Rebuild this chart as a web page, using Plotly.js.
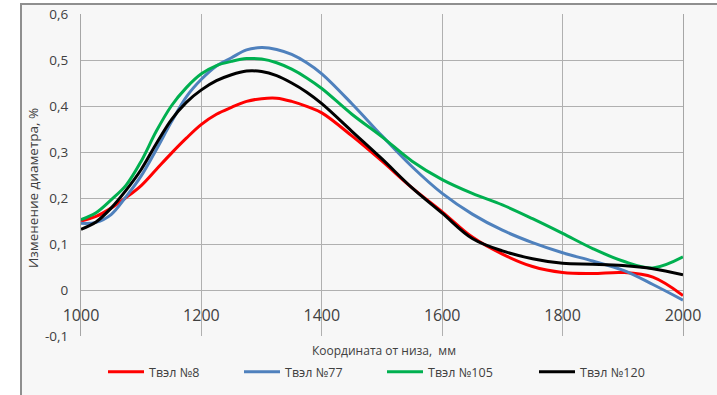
<!DOCTYPE html>
<html>
<head>
<meta charset="utf-8">
<script src="https://cdn.plot.ly/plotly-3.0.1.min.js"></script>
<style>html,body{margin:0;padding:0;background:#fff;}#chart{width:717px;height:395px;}</style>
</head>
<body>
<div id="chart"></div>
<script>
const coords  = [1000,1025,1050,1075,1100,1125,1150,1175,1200,1225,1250,1275,1300,1325,1350,1375,1400,1450,1500,1550,1600,1650,1700,1750,1800,1850,1900,1950,2000];
const tvel8   = [0.150,0.160,0.178,0.201,0.227,0.262,0.297,0.330,0.360,0.382,0.397,0.410,0.416,0.417,0.410,0.399,0.385,0.335,0.280,0.222,0.170,0.115,0.078,0.051,0.038,0.036,0.038,0.028,-0.012];
const tvel77  = [0.145,0.147,0.164,0.203,0.248,0.305,0.365,0.420,0.458,0.487,0.505,0.522,0.527,0.523,0.512,0.494,0.470,0.405,0.335,0.268,0.210,0.165,0.130,0.103,0.081,0.063,0.043,0.012,-0.022];
const tvel105 = [0.153,0.168,0.196,0.228,0.280,0.345,0.400,0.440,0.470,0.488,0.497,0.503,0.502,0.494,0.480,0.461,0.438,0.382,0.333,0.280,0.240,0.210,0.185,0.155,0.123,0.090,0.063,0.048,0.072];
const tvel120 = [0.132,0.148,0.178,0.217,0.262,0.318,0.370,0.408,0.435,0.455,0.468,0.476,0.475,0.466,0.450,0.430,0.405,0.345,0.285,0.222,0.167,0.112,0.085,0.068,0.058,0.056,0.053,0.046,0.033];
const seriesNames = ["Твэл №8","Твэл №77","Твэл №105","Твэл №120"];
const yTickVals = [-0.1,0,0.1,0.2,0.3,0.4,0.5,0.6];
const yTickText = ["-0,1","0","0,1","0,2","0,3","0,4","0,5","0,6"];
const xTickVals = [1000,1200,1400,1600,1800,2000];
const xTickText = ["1000","1200","1400","1600","1800","2000"];
const xTitle = "Координата от низа,  мм";
const yTitle = "Изменение диаметра, %";

const colors = ["#ff0000","#4f81bd","#00b050","#000000"];
const allY = [tvel8, tvel77, tvel105, tvel120];
const legendIds = ["legend","legend2","legend3","legend4"];

const W = 717, H = 395;
const L = 81, R = 34, T = 14, B = 59;
const pw = W - L - R, ph = H - T - B;
const px = v => (v - L) / pw;
const py = v => (H - B - v) / ph;

const traces = allY.map((ys, i) => ({
  x: coords, y: ys, type: "scatter", mode: "lines", name: seriesNames[i],
  line: {color: colors[i], width: 3, shape: "spline", smoothing: 1},
  legend: legendIds[i], hoverinfo: "skip"
}));

const legendStarts = [108, 244, 387, 539];
const legendFont = {family: "Open Sans", size: 12.5, color: "#404040"};
const legends = {};
legendIds.forEach((id, i) => {
  legends[id] = {
    xref: "container", yref: "container",
    x: (legendStarts[i] - 5) / W, y: (H - 372) / H, xanchor: "left", yanchor: "middle",
    orientation: "h", bgcolor: "rgba(0,0,0,0)", borderwidth: 0,
    font: legendFont, itemwidth: 36
  };
});

const layout = Object.assign({
  width: W, height: H,
  margin: {l: L, r: R, t: T, b: B, pad: 0, autoexpand: false},
  paper_bgcolor: "#ffffff",
  plot_bgcolor: "rgba(0,0,0,0)",
  showlegend: true,
  font: {family: "Open Sans", color: "#404040"},
  xaxis: {
    range: [1000, 2000], tickvals: xTickVals, ticktext: xTickText,
    showgrid: true, gridcolor: "#b0b0b0", gridwidth: 1,
    zeroline: false, showline: false, ticks: "",
    anchor: "free", position: py(304),
    tickfont: {family: "Open Sans", size: 16, color: "#404040"}
  },
  yaxis: {
    range: [-0.1, 0.6], tickvals: yTickVals, ticktext: yTickText,
    showgrid: true, gridcolor: "#b0b0b0", gridwidth: 1,
    zeroline: false, showline: true, linecolor: "#a6a6a6", linewidth: 1, mirror: true,
    ticks: "", ticklabelstandoff: 9,
    tickfont: {family: "Open Sans", size: 13.5, color: "#404040"}
  },
  shapes: [{
    type: "rect", xref: "paper", yref: "paper", layer: "below",
    x0: px(21), x1: px(730), y0: py(410), y1: py(4),
    fillcolor: "#f7f7f7", line: {color: "#8f8f8f", width: 2}
  }],
  annotations: [
    {text: xTitle, xref: "paper", yref: "paper", x: px(384), y: py(350),
     xanchor: "center", yanchor: "middle", showarrow: false,
     font: {family: "Open Sans", size: 12, color: "#404040"}},
    {text: yTitle, xref: "paper", yref: "paper", x: px(33), y: py(188),
     xanchor: "center", yanchor: "middle", showarrow: false, textangle: -90,
     font: {family: "Open Sans", size: 13.5, color: "#404040"}}
  ]
}, legends);

Plotly.newPlot("chart", traces, layout, {staticPlot: true, displayModeBar: false});
</script>
</body>
</html>
